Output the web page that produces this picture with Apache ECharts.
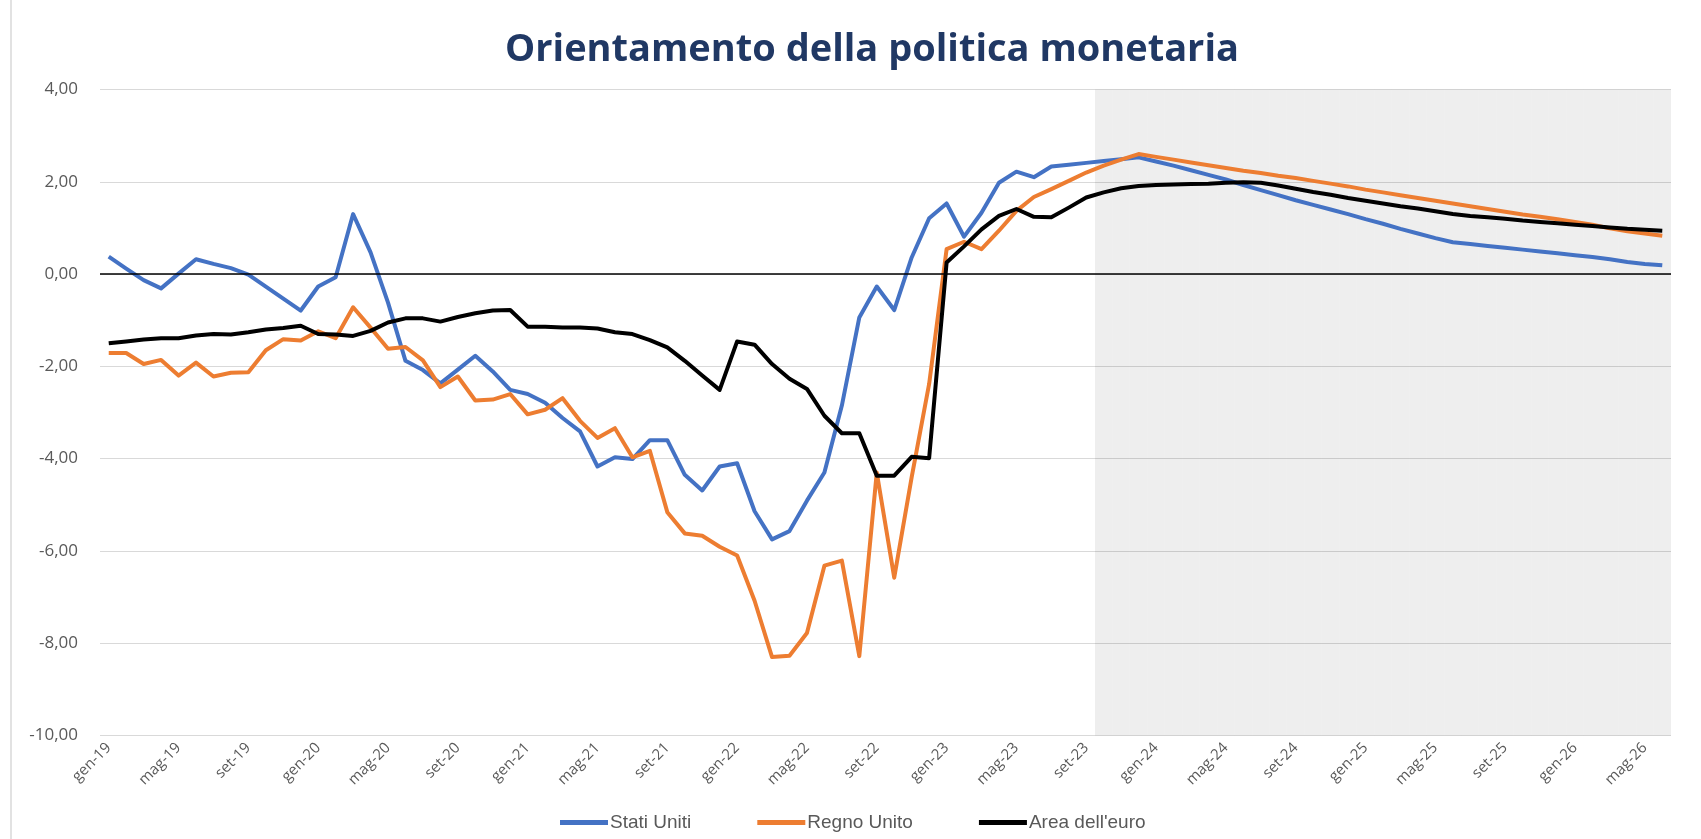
<!DOCTYPE html>
<html>
<head>
<meta charset="utf-8">
<title>Orientamento della politica monetaria</title>
<script src="https://cdn.jsdelivr.net/npm/echarts@6/dist/echarts.min.js"></script>
<style>
    html, body { margin: 0; padding: 0; background: #fff; }
    #chart { width: 1701px; height: 839px; }
</style>
</head>
<body>
<div id="chart"></div>
<script>
// mesi, gen-19 .. giu-26
var monthNames = ["gen", "feb", "mar", "apr", "mag", "giu", "lug", "ago", "set", "ott", "nov", "dic"];
var years = ["19", "20", "21", "22", "23", "24", "25", "26"];
var lastMonth = 5; // giu-26

// i mesi da ott-23 in poi sono ombreggiati (previsioni)
var forecastStart = "ott-23";

var statiUniti = [
    0.38, 0.12, -0.13, -0.31, 0.01, 0.32, 0.22, 0.13, -0.01, -0.27, -0.53, -0.79,
    -0.27, -0.07, 1.30, 0.47, -0.62, -1.88, -2.08, -2.37, -2.07, -1.77, -2.11, -2.51,
    -2.60, -2.79, -3.12, -3.41, -4.17, -3.97, -4.01, -3.60, -3.60, -4.35, -4.69, -4.17,
    -4.10, -5.14, -5.75, -5.57, -4.91, -4.30, -2.85, -0.94, -0.27, -0.78, 0.36, 1.21,
    1.53, 0.81, 1.33, 1.98, 2.22, 2.10, 2.33, 2.37, 2.41, 2.45, 2.49, 2.53,
    2.44, 2.35, 2.25, 2.15, 2.05, 1.93, 1.82, 1.71, 1.60, 1.50, 1.40, 1.30,
    1.19, 1.09, 0.98, 0.88, 0.78, 0.69, 0.65, 0.61, 0.57, 0.53, 0.49, 0.45,
    0.41, 0.37, 0.32, 0.26, 0.22, 0.19
];
var regnoUnito = [
    -1.71, -1.71, -1.95, -1.86, -2.20, -1.92, -2.22, -2.14, -2.13, -1.65, -1.41, -1.44,
    -1.24, -1.39, -0.72, -1.16, -1.62, -1.58, -1.87, -2.45, -2.22, -2.74, -2.72, -2.60,
    -3.04, -2.94, -2.69, -3.18, -3.55, -3.34, -3.97, -3.83, -5.16, -5.62, -5.67, -5.91,
    -6.10, -7.08, -8.30, -8.27, -7.78, -6.32, -6.21, -8.28, -4.30, -6.58, -4.40, -2.38,
    0.54, 0.70, 0.54, 0.94, 1.37, 1.67, 1.84, 2.02, 2.20, 2.35, 2.48, 2.60,
    2.54, 2.48, 2.42, 2.36, 2.30, 2.24, 2.19, 2.13, 2.08, 2.02, 1.96, 1.90,
    1.83, 1.77, 1.71, 1.65, 1.59, 1.53, 1.47, 1.41, 1.35, 1.29, 1.24, 1.19,
    1.13, 1.07, 0.99, 0.93, 0.88, 0.83
];
var areaEuro = [
    -1.50, -1.46, -1.42, -1.39, -1.39, -1.33, -1.30, -1.31, -1.26, -1.20, -1.17, -1.12,
    -1.30, -1.31, -1.34, -1.23, -1.05, -0.96, -0.96, -1.03, -0.93, -0.85, -0.79, -0.78,
    -1.14, -1.14, -1.16, -1.16, -1.18, -1.26, -1.30, -1.43, -1.59, -1.88, -2.20, -2.51,
    -1.46, -1.53, -1.95, -2.27, -2.49, -3.07, -3.45, -3.45, -4.37, -4.37, -3.96, -3.99,
    0.25, 0.60, 0.97, 1.26, 1.41, 1.24, 1.23, 1.44, 1.66, 1.77, 1.86, 1.91,
    1.93, 1.94, 1.95, 1.96, 1.98, 1.99, 1.98, 1.92, 1.85, 1.78, 1.72, 1.65,
    1.59, 1.53, 1.47, 1.42, 1.36, 1.30, 1.26, 1.23, 1.20, 1.16, 1.13, 1.10,
    1.07, 1.04, 1.01, 0.98, 0.96, 0.94
];

// etichette asse y
var yTicks = { min: -10, max: 4, step: 2 };

(function () {
    var months = [];
    years.forEach(function (y, yi) {
        monthNames.forEach(function (m, mi) {
            if (yi === years.length - 1 && mi > lastMonth) return;
            months.push(m + "-" + y);
        });
    });
    var startIdx = months.indexOf(forecastStart);
    // colonna di sfondo per il periodo di previsione
    var shade = months.map(function (m, i) { return i >= startIdx ? 1 : null; });

    var font = "'Open Sans', 'Liberation Sans', sans-serif";
    var myChart = echarts.init(document.getElementById("chart"));
    var option = {
        animation: false,
        backgroundColor: "#fff",
        color: ["#4472C4", "#ED7D31", "#000000"],
        title: {
            text: "Orientamento della politica monetaria",
            left: 867,
            top: 26,
            textAlign: "center",
            textStyle: {
                color: "#203864",
                fontFamily: font,
                fontWeight: "bold",
                fontSize: 38
            }
        },
        legend: {
            data: ["Stati Uniti", "Regno Unito", "Area dell'euro"],
            left: 555,
            top: 808,
            icon: "rect",
            itemWidth: 48,
            itemHeight: 5,
            itemGap: 66,
            textStyle: {
                color: "#595959",
                fontFamily: "'Liberation Sans Narrow', 'Liberation Sans', sans-serif",
                fontSize: 19,
                padding: [0, 0, 0, -3]
            }
        },
        grid: {
            left: 100,
            right: 30,
            top: 89.5,
            bottom: 103.5,
            containLabel: false
        },
        graphic: [{
            type: "line",
            shape: { x1: 11, y1: 0, x2: 11, y2: 839 },
            style: { stroke: "#d9d9d9", lineWidth: 1.5 }
        }],
        xAxis: {
            type: "category",
            data: months,
            axisLine: { show: false },
            axisTick: { show: false },
            axisLabel: {
                interval: 3,
                rotate: 45,
                color: "#595959",
                fontFamily: font,
                fontSize: 15,
                margin: 10
            }
        },
        yAxis: [{
            type: "value",
            min: yTicks.min,
            max: yTicks.max,
            interval: yTicks.step,
            axisLine: { show: false },
            axisTick: { show: false },
            axisLabel: {
                color: "#595959",
                fontFamily: font,
                fontSize: 17,
                margin: 22,
                formatter: function (v) { return v.toFixed(2).replace(".", ","); }
            },
            splitLine: { lineStyle: { color: "#d9d9d9", width: 1.2 } }
        }, {
            type: "value",
            min: 0,
            max: 1,
            show: false
        }],
        series: [
            {
                name: "previsione",
                type: "bar",
                yAxisIndex: 1,
                data: shade,
                barCategoryGap: "0%",
                silent: true,
                z: 1,
                itemStyle: { color: "rgba(0,0,0,0.065)" }
            },
            {
                name: "Stati Uniti",
                type: "line",
                data: statiUniti,
                symbol: "none",
                z: 3,
                lineStyle: { width: 4, join: "round" },
                markLine: {
                    silent: true,
                    symbol: "none",
                    label: { show: false },
                    lineStyle: { color: "#000", width: 1.5, type: "solid" },
                    data: [{ yAxis: 0 }]
                }
            },
            {
                name: "Regno Unito",
                type: "line",
                data: regnoUnito,
                symbol: "none",
                z: 4,
                lineStyle: { width: 4, join: "round" }
            },
            {
                name: "Area dell'euro",
                type: "line",
                data: areaEuro,
                symbol: "none",
                z: 5,
                lineStyle: { width: 4, join: "round" }
            }
        ]
    };
    myChart.setOption(option);
    window.addEventListener("resize", function () {
        myChart.resize();
    });
})();
</script>
</body>
</html>
